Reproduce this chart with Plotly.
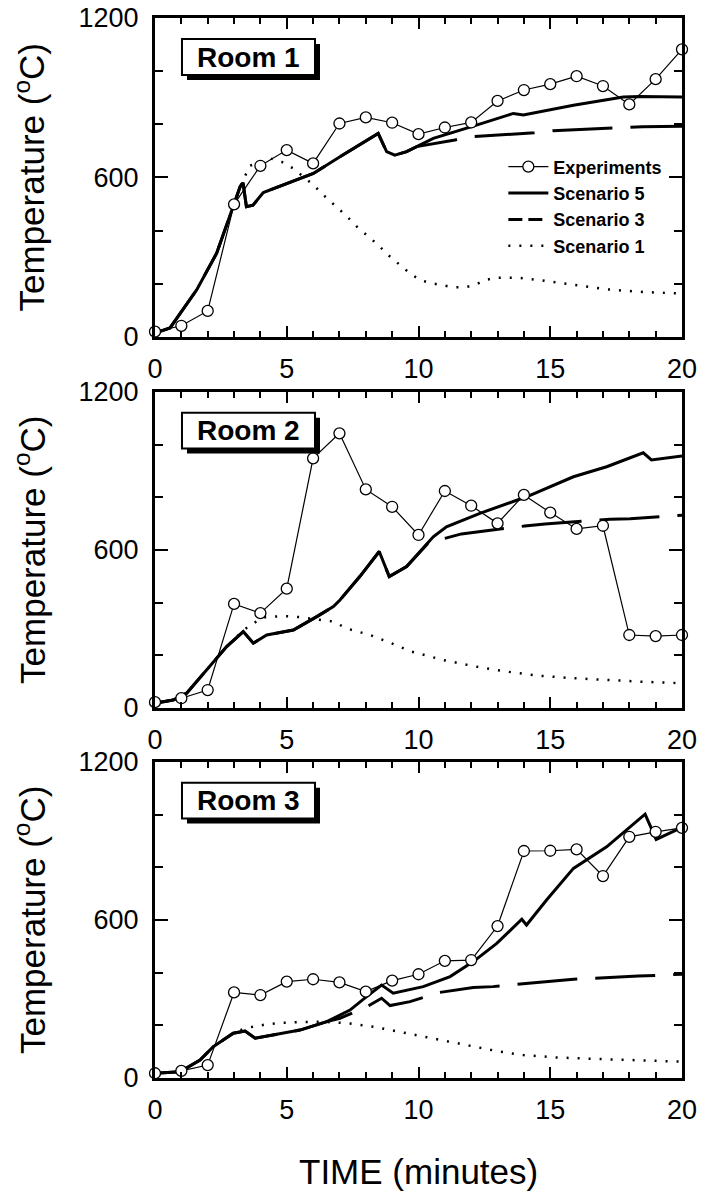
import plotly.graph_objects as go

# ---------------- data ----------------
t_exp = list(range(0, 21))

exp_room1 = [20, 42, 98, 499, 644, 703, 653, 803, 826, 806, 763, 788, 807, 888, 929, 951, 981, 944, 875, 970, 1082]
exp_room2 = [22, 37, 68, 395, 360, 453, 948, 1043, 830, 764, 657, 824, 768, 701, 809, 742, 680, 692, 277, 273, 277]
exp_room3 = [18, 27, 49, 325, 315, 366, 375, 363, 328, 370, 394, 445, 448, 577, 862, 863, 868, 767, 916, 935, 950]

# Room 1 simulations
s5_r1_t = [0, 0.57, 1.58, 2.34, 3.23, 3.34, 3.47, 3.72, 4.11, 6.01, 7.02, 8.47, 8.79, 9.1, 9.55, 10.56, 12.08, 13.6, 13.98, 15.88, 17.77, 18.4, 20]
s5_r1_T = [15, 34, 177, 315, 565, 580, 490, 496, 543, 615, 678, 766, 697, 684, 697, 747, 793, 841, 835, 872, 903, 905, 903]
s3_r1_t = [0, 0.57, 1.58, 2.34, 3.23, 3.34, 3.47, 3.72, 4.11, 6.01, 7.02, 8.47, 8.79, 9.1, 9.55, 9.93, 11.38, 11.9, 14.4, 15.1, 17.77, 18.5, 20]
s3_r1_T = [15, 34, 177, 315, 565, 580, 490, 496, 543, 615, 678, 766, 697, 684, 697, 716, 741, 753, 768, 776, 788, 791, 793]
s1_r1_t = [0, 0.57, 1.58, 2.34, 3.23, 3.42, 3.6, 4.36, 4.81, 5.25, 6.01, 6.39, 6.83, 7.27, 7.65, 8.09, 8.47, 8.85, 9.3, 9.68, 10.06, 10.5, 11.32, 11.76, 12.14, 12.52, 12.97, 13.73, 14.61, 15.88, 17.14, 18.4, 20]
s1_r1_T = [15, 34, 177, 315, 565, 603, 644, 672, 659, 634, 572, 534, 496, 455, 416, 377, 346, 308, 271, 239, 214, 202, 187, 187, 195, 214, 223, 223, 214, 195, 179, 170, 163]

# Room 2 simulations
s5_r2_t = [0, 0.69, 1.2, 1.96, 2.72, 3.35, 3.73, 4.24, 5.25, 6.14, 6.77, 7.02, 7.78, 8.51, 8.89, 9.55, 10.56, 11.06, 12.33, 14.1, 15.88, 17.14, 18.53, 18.84, 20]
s5_r2_T = [18, 30, 56, 144, 233, 290, 246, 277, 296, 347, 385, 410, 500, 594, 499, 537, 650, 688, 739, 802, 878, 916, 969, 942, 957]
s3_r2_t = [0, 0.69, 1.2, 1.96, 2.72, 3.35, 3.73, 4.24, 5.25, 6.14, 6.77, 7.02, 7.78, 8.51, 8.89, 9.55, 10.4, 10.85, 11.63, 14.03, 14.8, 17.27, 18.03, 20]
s3_r2_T = [18, 30, 56, 144, 233, 290, 246, 277, 296, 347, 385, 410, 500, 594, 499, 537, 630, 640, 661, 691, 699, 717, 719, 732]
s1_r2_t = [0, 0.69, 1.2, 1.96, 2.72, 3.3, 3.6, 4.1, 4.86, 5.5, 6.77, 7.27, 7.72, 8.16, 8.92, 9.74, 10.94, 12.19, 13.35, 14.61, 15.88, 17.14, 18.4, 20]
s1_r2_T = [18, 30, 56, 144, 233, 290, 313, 344, 349, 345, 328, 302, 290, 277, 248, 214, 182, 157, 138, 122, 113, 106, 100, 94]

# Room 3 simulations
s5_r3_t = [0, 0.95, 1.71, 2.21, 2.97, 3.42, 3.8, 4.49, 5.5, 6.52, 7.02, 7.4, 8.03, 8.6, 9.04, 10.18, 11.2, 12.08, 12.97, 13.92, 14.1, 14.86, 15.88, 17.14, 18.6, 19.02, 20]
s5_r3_T = [18, 24, 68, 119, 170, 178, 151, 163, 182, 214, 239, 258, 309, 353, 322, 347, 385, 442, 511, 603, 581, 676, 796, 878, 1002, 906, 952]
s3_r3_t = [0, 0.95, 1.71, 2.21, 2.97, 3.42, 3.8, 4.49, 5.5, 6.52, 7.02, 8.03, 8.6, 8.92, 9.68, 10.8, 12.08, 12.82, 15.3, 15.88, 18.34, 19.35, 20]
s3_r3_T = [18, 24, 68, 119, 170, 178, 151, 163, 182, 214, 227, 270, 303, 275, 290, 325, 344, 347, 369, 375, 387, 391, 394]
s1_r3_t = [0, 0.95, 1.71, 2.21, 2.97, 3.4, 3.73, 4.24, 4.86, 6.26, 7.02, 7.46, 8.28, 9.55, 10.82, 12.08, 13.09, 13.98, 15.24, 17.14, 20]
s1_r3_T = [18, 24, 68, 119, 170, 188, 195, 204, 210, 214, 210, 206, 195, 170, 144, 119, 100, 87, 78, 71, 62]

room_labels = ["Room 1", "Room 2", "Room 3"]
legend_names = ["Experiments", "Scenario 5", "Scenario 3", "Scenario 1"]
x_ticks = [0, 5, 10, 15, 20]
y_ticks = [0, 600, 1200]
y_title = "Temperature (<sup>o</sup>C)"
x_title = "TIME (minutes)"

rooms = [
    (exp_room1, s5_r1_t, s5_r1_T, s3_r1_t, s3_r1_T, s1_r1_t, s1_r1_T),
    (exp_room2, s5_r2_t, s5_r2_T, s3_r2_t, s3_r2_T, s1_r2_t, s1_r2_T),
    (exp_room3, s5_r3_t, s5_r3_T, s3_r3_t, s3_r3_T, s1_r3_t, s1_r3_T),
]

# ---------------- figure ----------------
FONT = "Liberation Sans, Arial, sans-serif"
fig = go.Figure()

domains = [[0.6991, 1.0], [0.3491, 0.6472], [0.0, 0.2981]]

for i, (ex, a_t, a_T, b_t, b_T, c_t, c_T) in enumerate(rooms):
    n = "" if i == 0 else str(i + 1)
    xa, ya = "x" + n, "y" + n
    fig.add_trace(go.Scatter(x=c_t, y=c_T, mode="lines", xaxis=xa, yaxis=ya, showlegend=False,
                             line=dict(color="black", width=2.5, dash="2px,9px")))
    fig.add_trace(go.Scatter(x=b_t, y=b_T, mode="lines", xaxis=xa, yaxis=ya, showlegend=False,
                             line=dict(color="black", width=3, dash="60px,18px")))
    fig.add_trace(go.Scatter(x=a_t, y=a_T, mode="lines", xaxis=xa, yaxis=ya, showlegend=False,
                             line=dict(color="black", width=3)))
    fig.add_trace(go.Scatter(x=t_exp, y=ex, mode="lines+markers", xaxis=xa, yaxis=ya, showlegend=False,
                             cliponaxis=False,
                             line=dict(color="black", width=1.2),
                             marker=dict(symbol="circle", size=11, color="white",
                                         line=dict(color="black", width=1.3))))

    axis_common = dict(showline=True, linewidth=3, linecolor="black", mirror="ticks",
                       ticks="inside", tickwidth=2, tickcolor="black", showgrid=False,
                       zeroline=False, automargin=False,
                       tickfont=dict(family=FONT, size=27, color="black"))
    fig.layout["xaxis" + n] = dict(axis_common, range=[0, 20], tickvals=x_ticks, ticklen=11,
                                   anchor=ya, domain=[0, 1], ticklabelstandoff=6,
                                   minor=dict(ticks="inside", ticklen=6, tickwidth=2, dtick=1,
                                              tickcolor="black"))
    fig.layout["yaxis" + n] = dict(axis_common, range=[0, 1200], tickvals=y_ticks, ticklen=13,
                                   anchor=xa, domain=domains[i], ticklabelstandoff=8,
                                   minor=dict(ticks="inside", ticklen=8, tickwidth=2, dtick=200,
                                              tickcolor="black"))

    # y-axis title as rotated annotation
    fig.add_annotation(text=y_title, xref="paper", yref=ya + " domain", x=-0.2372, y=0.5,
                       xanchor="center", yanchor="middle", textangle=-90, showarrow=False,
                       font=dict(family=FONT, size=35, color="black"))

    # label box with shadow
    fig.add_shape(type="rect", xref=xa + " domain", yref=ya + " domain",
                  x0=0.0607, x1=0.3131, y0=0.8056, y1=0.9185,
                  fillcolor="black", line=dict(width=0), layer="above")
    fig.add_shape(type="rect", xref=xa + " domain", yref=ya + " domain",
                  x0=0.0512, x1=0.3036, y0=0.821, y1=0.934,
                  fillcolor="white", line=dict(color="black", width=2), layer="above")
    fig.add_annotation(text="<b>" + room_labels[i] + "</b>", xref=xa + " domain", yref=ya + " domain",
                       x=0.1774, y=0.8775, xanchor="center", yanchor="middle", showarrow=False,
                       font=dict(family=FONT, size=28, color="black"))

# legend-only traces
fig.add_trace(go.Scatter(x=[None], y=[None], mode="lines+markers", name=legend_names[0],
                         line=dict(color="black", width=1.2),
                         marker=dict(symbol="circle", size=11, color="white",
                                     line=dict(color="black", width=1.3))))
fig.add_trace(go.Scatter(x=[None], y=[None], mode="lines", name=legend_names[1],
                         line=dict(color="black", width=3)))
fig.add_trace(go.Scatter(x=[None], y=[None], mode="lines", name=legend_names[2],
                         line=dict(color="black", width=3, dash="14px,6px")))
fig.add_trace(go.Scatter(x=[None], y=[None], mode="lines", name=legend_names[3],
                         line=dict(color="black", width=2.5, dash="2px,9px")))

fig.add_annotation(text=x_title, xref="paper", yref="paper", x=0.5, y=-0.0882,
                   xanchor="center", yanchor="middle", showarrow=False,
                   font=dict(family=FONT, size=35, color="black"))

fig.update_layout(
    width=702, height=1196,
    margin=dict(l=155, r=20, t=18, b=118, autoexpand=False),
    paper_bgcolor="white", plot_bgcolor="white",
    font=dict(family=FONT, color="black"),
    showlegend=True,
    legend=dict(x=0.661, y=0.877, xanchor="left", yanchor="top",
                bgcolor="rgba(0,0,0,0)", borderwidth=0, itemwidth=40,
                font=dict(family=FONT, size=18, color="black", weight="bold"),
                tracegroupgap=0),
)

fig.write_html("out.html")
